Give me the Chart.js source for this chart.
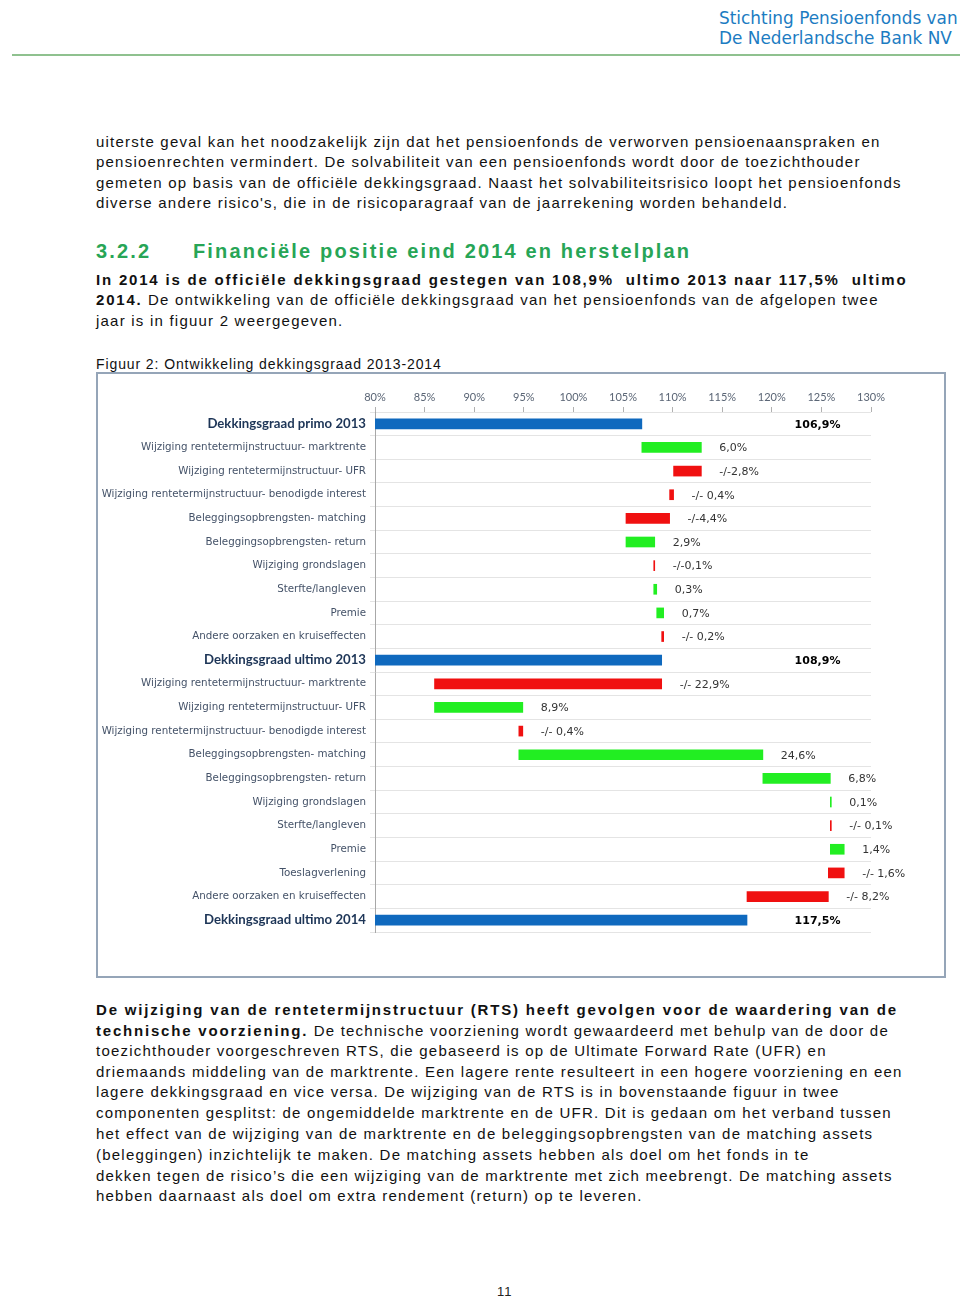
<!DOCTYPE html>
<html>
<head>
<meta charset="utf-8">
<script src="https://cdn.jsdelivr.net/npm/chart.js@4.4.1/dist/chart.umd.min.js"></script>
<style>
  html, body { margin: 0; padding: 0; background: #ffffff; }
  #page { position: relative; width: 960px; height: 1301px; overflow: hidden; background: #fff; }
  .hdr { position: absolute; left: 719px; font-family: "DejaVu Sans", Verdana, sans-serif; font-size: 16.9px; color: #1c7cc2; line-height: 20px; white-space: nowrap; }
  .rule { position: absolute; left: 12px; top: 54px; width: 948px; height: 2px; background: #8fc18f; }
  .ln { position: absolute; left: 96px; font-family: "Liberation Sans", Arial, sans-serif; font-size: 15px; letter-spacing: 1.22px; line-height: 20px; color: #111; white-space: nowrap; }
  .ln b { letter-spacing: 1.8px; font-weight: bold; }
  .h3 { position: absolute; left: 96px; font-family: "Liberation Sans", Arial, sans-serif; font-size: 20px; font-weight: bold; letter-spacing: 2.15px; color: #27a556; line-height: 24px; white-space: nowrap; }
  #frame { position: absolute; left: 96px; top: 372px; width: 846px; height: 602px; border: 2px solid #95a5b8; }
  #chart { position: absolute; left: 0; top: 0; }
  .pn { position: absolute; left: 497px; top: 1284px; font-family: "Liberation Sans", Arial, sans-serif; font-size: 13px; letter-spacing: 1px; color: #222; }
</style>
</head>
<body>
<div id="page">
  <div class="hdr" style="top:8px;">Stichting Pensioenfonds van</div>
  <div class="hdr" style="top:28px;">De Nederlandsche Bank NV</div>
  <div class="rule"></div>

  <div class="ln" style="top:132px;">uiterste geval kan het noodzakelijk zijn dat het pensioenfonds de verworven pensioenaanspraken en</div>
  <div class="ln" style="top:152px;">pensioenrechten vermindert. De solvabiliteit van een pensioenfonds wordt door de toezichthouder</div>
  <div class="ln" style="top:173px;">gemeten op basis van de officiële dekkingsgraad. Naast het solvabiliteitsrisico loopt het pensioenfonds</div>
  <div class="ln" style="top:193px;">diverse andere risico's, die in de risicoparagraaf van de jaarrekening worden behandeld.</div>

  <div class="h3" style="top:239px;">3.2.2</div>
  <div class="h3" style="top:239px; left:193px;">Financiële positie eind 2014 en herstelplan</div>

  <div class="ln" style="top:270px;"><b>In 2014 is de officiële dekkingsgraad gestegen van 108,9%&nbsp; ultimo 2013 naar 117,5%&nbsp; ultimo</b></div>
  <div class="ln" style="top:290px;"><b>2014.</b> De ontwikkeling van de officiële dekkingsgraad van het pensioenfonds van de afgelopen twee</div>
  <div class="ln" style="top:311px;">jaar is in figuur 2 weergegeven.</div>

  <div class="ln" style="top:354px; font-size:14px; letter-spacing:0.9px;">Figuur 2: Ontwikkeling dekkingsgraad 2013-2014</div>

  <div id="frame"><canvas id="chart" width="846" height="602"></canvas></div>

  <div class="ln" style="top:1000px;"><b>De wijziging van de rentetermijnstructuur (RTS) heeft gevolgen voor de waardering van de</b></div>
  <div class="ln" style="top:1021px;"><b>technische voorziening.</b> De technische voorziening wordt gewaardeerd met behulp van de door de</div>
  <div class="ln" style="top:1041px;">toezichthouder voorgeschreven RTS, die gebaseerd is op de Ultimate Forward Rate (UFR) en</div>
  <div class="ln" style="top:1062px;">driemaands middeling van de marktrente. Een lagere rente resulteert in een hogere voorziening en een</div>
  <div class="ln" style="top:1082px;">lagere dekkingsgraad en vice versa. De wijziging van de RTS is in bovenstaande figuur in twee</div>
  <div class="ln" style="top:1103px;">componenten gesplitst: de ongemiddelde marktrente en de UFR. Dit is gedaan om het verband tussen</div>
  <div class="ln" style="top:1124px;">het effect van de wijziging van de marktrente en de beleggingsopbrengsten van de matching assets</div>
  <div class="ln" style="top:1145px;">(beleggingen) inzichtelijk te maken. De matching assets hebben als doel om het fonds in te</div>
  <div class="ln" style="top:1166px;">dekken tegen de risico’s die een wijziging van de marktrente met zich meebrengt. De matching assets</div>
  <div class="ln" style="top:1186px;">hebben daarnaast als doel om extra rendement (return) op te leveren.</div>

  <div class="pn">11</div>
</div>

<script>
// ---- Data ----
const categories = [
  "Dekkingsgraad primo 2013",
  "Wijziging rentetermijnstructuur- marktrente",
  "Wijziging rentetermijnstructuur- UFR",
  "Wijziging rentetermijnstructuur- benodigde interest",
  "Beleggingsopbrengsten- matching",
  "Beleggingsopbrengsten- return",
  "Wijziging grondslagen",
  "Sterfte/langleven",
  "Premie",
  "Andere oorzaken en kruiseffecten",
  "Dekkingsgraad ultimo 2013",
  "Wijziging rentetermijnstructuur- marktrente",
  "Wijziging rentetermijnstructuur- UFR",
  "Wijziging rentetermijnstructuur- benodigde interest",
  "Beleggingsopbrengsten- matching",
  "Beleggingsopbrengsten- return",
  "Wijziging grondslagen",
  "Sterfte/langleven",
  "Premie",
  "Toeslagverlening",
  "Andere oorzaken en kruiseffecten",
  "Dekkingsgraad ultimo 2014"
];
const isTotal = [true,false,false,false,false,false,false,false,false,false,
                 true,false,false,false,false,false,false,false,false,false,false,true];
const values = [106.9, 6.0, -2.8, -0.4, -4.4, 2.9, -0.1, 0.3, 0.7, -0.2,
                108.9, -22.9, 8.9, -0.4, 24.6, 6.8, 0.1, -0.1, 1.4, -1.6, -8.2, 117.5];
const valueLabels = ["106,9%", "6,0%", "-/-2,8%", "-/- 0,4%", "-/-4,4%", "2,9%", "-/-0,1%", "0,3%", "0,7%", "-/- 0,2%",
                     "108,9%", "-/- 22,9%", "8,9%", "-/- 0,4%", "24,6%", "6,8%", "0,1%", "-/- 0,1%", "1,4%", "-/- 1,6%", "-/- 8,2%", "117,5%"];
const axisMin = 80, axisMax = 130, axisStep = 5;

// ---- Build waterfall ----
const barData = [];
const barColors = [];
let running = 0;
values.forEach((v, i) => {
  if (isTotal[i]) {
    barData.push(v);
    barColors.push('#0f69be');
    running = v;
  } else {
    const end = Math.round((running + v) * 10) / 10;
    barData.push([running, end]);
    barColors.push(v >= 0 ? '#22ee22' : '#f01010');
    running = end;
  }
});

const regularFont = { family: "'DejaVu Sans', Verdana, sans-serif", size: 10.3 };
const boldFont = { family: "Lato, 'Open Sans', sans-serif", size: 13.2, weight: 'bold' };

const labelPlugin = {
  id: 'valueLabels',
  afterDatasetsDraw(chart) {
    const ctx = chart.ctx;
    const meta = chart.getDatasetMeta(0);
    const xs = chart.scales.x;
    ctx.save();
    ctx.textBaseline = 'middle';
    ctx.textAlign = 'left';
    meta.data.forEach((bar, i) => {
      const right = Math.max(bar.x, bar.base);
      let x, font, color;
      if (isTotal[i]) {
        x = Math.max(right + 16, xs.getPixelForValue(122.3));
        font = "bold 11px 'DejaVu Sans', sans-serif";
        color = '#000';
      } else {
        x = right + 18;
        font = "11px 'DejaVu Sans', sans-serif";
        color = '#333';
      }
      ctx.font = font;
      ctx.fillStyle = color;
      ctx.fillText(valueLabels[i], x, bar.y + 1);
    });
    ctx.restore();
  }
};

new Chart(document.getElementById('chart'), {
  type: 'bar',
  data: {
    labels: categories,
    datasets: [{
      data: barData,
      backgroundColor: barColors,
      borderWidth: 0,
      barThickness: 10
    }]
  },
  options: {
    indexAxis: 'y',
    responsive: false,
    animation: false,
    devicePixelRatio: 1,
    layout: { padding: { left: 0, right: 73, top: 0, bottom: 44 } },
    plugins: { legend: { display: false }, tooltip: { enabled: false } },
    scales: {
      x: {
        position: 'top',
        min: axisMin,
        max: axisMax,
        afterFit: s => { s.height = 38; },
        ticks: {
          stepSize: axisStep,
          callback: v => v + '%',
          font: { family: "Lato, sans-serif", size: 11 },
          color: '#5a6575',
          padding: 3
        },
        grid: { drawOnChartArea: false, drawTicks: true, tickLength: 5, color: '#b0b0b0' },
        border: { display: false }
      },
      y: {
        afterFit: s => { s.width = 277; },
        ticks: {
          autoSkip: false,
          padding: 4,
          font: c => isTotal[c.index] ? boldFont : regularFont,
          color: c => isTotal[c.index] ? '#1d3557' : '#445268'
        },
        grid: { color: '#e4e4e4', tickLength: 5, offset: true },
        border: { color: '#a8a8a8' }
      }
    }
  },
  plugins: [labelPlugin]
});
</script>
</body>
</html>
